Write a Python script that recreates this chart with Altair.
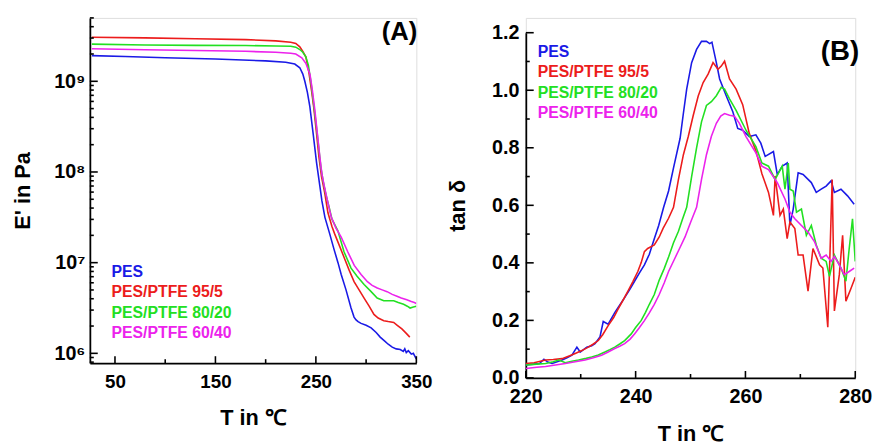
import altair as alt
import pandas as pd

FONT = "Liberation Sans"
SERIES = ["PES", "PES/PTFE 95/5", "PES/PTFE 80/20", "PES/PTFE 60/40"]
COLORS = ["#1a1ae6", "#ec1c1c", "#22e022", "#ec22ec"]

# ---------------- Panel (A): storage modulus E' (Pa) vs T ----------------
A_PES_T = [27, 60, 100, 150, 200, 220, 229, 234, 237, 239, 241.5, 244, 247.3, 250.7, 253.9,
           256, 259, 263.7, 268, 272, 275.2, 280, 285, 288, 290, 292, 295, 300, 305, 310,
           314, 318, 322, 326, 330, 334, 337, 338.5, 340, 342, 345, 347, 349, 350]
A_PES_E = [1.92e9, 1.88e9, 1.82e9, 1.76e9, 1.68e9, 1.62e9, 1.55e9, 1.41e9, 1.20e9, 1.0e9,
           7.59e8, 5.25e8, 2.63e8, 1.26e8, 7.08e7, 4.79e7, 3.16e7, 2.09e7, 1.41e7, 1.0e7,
           7.41e6, 5.01e6, 3.16e6, 2.51e6, 2.34e6, 2.24e6, 2.14e6, 2.04e6, 1.91e6, 1.70e6,
           1.51e6, 1.38e6, 1.26e6, 1.17e6, 1.12e6, 1.10e6, 1.05e6, 1.12e6, 1.02e6, 1.07e6,
           9.8e5, 1.0e6, 9.1e5, 8.7e5]

A_95_T = [27, 80, 130, 180, 210, 225, 230, 234, 237, 240, 243, 245.8, 248, 250.7, 253,
          255.6, 258.8, 262, 266, 268.6, 273, 278.4, 283, 288, 293, 298, 303, 307.8, 312,
          317.6, 322, 327.5, 331, 335.6, 340, 343.5]
A_95_E = [3.06e9, 3.01e9, 2.95e9, 2.88e9, 2.79e9, 2.69e9, 2.62e9, 2.40e9, 2.14e9, 1.86e9,
          1.26e9, 7.76e8, 5.01e8, 2.63e8, 1.48e8, 8.91e7, 5.89e7, 3.55e7, 2.51e7, 2.09e7,
          1.58e7, 1.12e7, 8.32e6, 6.17e6, 5.01e6, 4.07e6, 3.31e6, 2.69e6, 2.45e6, 2.29e6,
          2.24e6, 2.19e6, 2.04e6, 1.86e6, 1.66e6, 1.51e6]

A_80_T = [27, 80, 130, 180, 210, 225, 230, 234, 237, 240, 242.5, 245, 247.3, 250, 252.3,
          255, 257.2, 260, 263, 266, 271.9, 278, 285, 291, 298, 305, 311, 317.6, 322, 327.5,
          332, 337.3, 341, 343.8, 347, 350]
A_80_E = [2.57e9, 2.51e9, 2.49e9, 2.48e9, 2.45e9, 2.43e9, 2.38e9, 2.24e9, 2.09e9, 1.86e9,
          1.51e9, 1.0e9, 6.17e8, 3.55e8, 2.09e8, 1.12e8, 7.94e7, 5.62e7, 4.17e7, 3.02e7,
          2.24e7, 1.32e7, 8.71e6, 7.08e6, 5.75e6, 4.79e6, 4.07e6, 3.80e6, 3.80e6, 3.80e6,
          3.63e6, 3.47e6, 3.31e6, 3.16e6, 3.24e6, 3.31e6]

A_60_T = [27, 80, 130, 180, 210, 225, 230, 236, 240, 244.1, 246.5, 249, 251.5, 253.9, 256,
          258.8, 262, 265.4, 270, 275.2, 281.7, 288.2, 295, 301.3, 306, 311.1, 316, 320.9,
          326, 330.7, 335, 340.5, 345, 348, 350]
A_60_E = [2.29e9, 2.23e9, 2.19e9, 2.14e9, 2.09e9, 2.04e9, 2.0e9, 1.82e9, 1.58e9, 1.20e9,
          7.94e8, 4.79e8, 2.63e8, 1.48e8, 9.55e7, 6.61e7, 4.57e7, 3.16e7, 2.40e7, 1.91e7,
          1.32e7, 9.33e6, 7.41e6, 6.17e6, 5.62e6, 5.25e6, 5.01e6, 4.79e6, 4.47e6, 4.27e6,
          4.07e6, 3.89e6, 3.72e6, 3.63e6, 3.55e6]

# ---------------- Panel (B): tan delta vs T ----------------
B_PES_T = [220, 221.5, 222.5, 223.3, 224, 224.8, 225.7, 226.6, 227.5, 228.4, 229.3, 229.9,
           231.1, 232, 232.6, 233.5, 234.1, 235, 236.2, 237, 238, 239, 239.8, 240.7, 241.6,
           242.5, 243.4, 244.2, 245.1, 246, 246.9, 248.1, 248.7, 249.3, 250.2, 251.1, 252,
           252.9, 253.5, 253.9, 254.7, 255.3, 256.5, 257.7, 258.6, 259.5, 260.7, 261.9,
           262.8, 263.6, 265.1, 265.8, 266.7, 267.6, 268.1, 268.7, 269.6, 270.5, 272, 272.9,
           273.8, 274.7, 275.6, 276.2, 277.4, 278.6, 279.8]
B_PES_V = [0.045, 0.048, 0.05, 0.065, 0.055, 0.05, 0.056, 0.062, 0.07, 0.079, 0.107, 0.09,
           0.107, 0.112, 0.119, 0.142, 0.196, 0.187, 0.227, 0.25, 0.279, 0.31, 0.336, 0.365,
           0.393, 0.43, 0.484, 0.53, 0.593, 0.65, 0.73, 0.833, 0.92, 1.004, 1.096, 1.142,
           1.17, 1.17, 1.162, 1.167, 1.096, 1.039, 0.981, 0.925, 0.867, 0.861, 0.839, 0.845,
           0.816, 0.77, 0.787, 0.707, 0.736, 0.747, 0.53, 0.587, 0.713, 0.707, 0.679, 0.645,
           0.656, 0.667, 0.685, 0.645, 0.656, 0.633, 0.604]

B_95_T = [220, 221.5, 223.6, 225, 226.6, 228, 229, 230.2, 231.4, 232.3, 233.2, 234, 235, 236,
          236.8, 237.7, 238.6, 239.5, 240.4, 241, 241.6, 242.2, 243.4, 244.3, 245, 246, 246.9,
          247.8, 248.7, 249.6, 250.5, 251.4, 252.3, 253.2, 254.1, 255, 255.6, 256.2, 257.1,
          258.3, 259.5, 260.7, 261.9, 263, 264.2, 265.1, 265.4, 266.3, 266.9, 267.6, 268.1,
          269, 269.6, 270.5, 271.4, 272.3, 273.5, 274.1, 275, 275.8, 276.2, 277.1, 277.7,
          278.3, 279.2, 280]
B_95_V = [0.05, 0.053, 0.062, 0.064, 0.067, 0.077, 0.085, 0.095, 0.107, 0.118, 0.13, 0.15,
          0.182, 0.21, 0.239, 0.27, 0.302, 0.335, 0.37, 0.4, 0.439, 0.45, 0.462, 0.49, 0.52,
          0.555, 0.593, 0.69, 0.776, 0.84, 0.913, 0.98, 1.027, 1.056, 1.096, 1.073, 1.084,
          1.101, 1.039, 1.004, 0.95, 0.85, 0.79, 0.71, 0.645, 0.565, 0.702, 0.565, 0.587,
          0.484, 0.542, 0.519, 0.427, 0.427, 0.302, 0.45, 0.393, 0.382, 0.176, 0.69, 0.233,
          0.359, 0.496, 0.267, 0.31, 0.35]

B_80_T = [220, 222, 223.6, 225, 226, 227.2, 228.4, 229.6, 231, 232, 233.2, 234.4, 235.3, 236.2,
          237.1, 238, 239.2, 240, 241, 241.8, 242.5, 243.4, 244.3, 245.2, 246, 246.9, 247.8,
          248.5, 249.3, 250.2, 251.1, 252, 252.9, 253.8, 254.7, 255.6, 256.2, 257.1, 258.3,
          260.1, 261.9, 263, 264.2, 265.4, 266.7, 267.2, 267.8, 268.1, 268.7, 269.3, 270.2,
          271.1, 272, 272.9, 273.8, 274.7, 275.3, 276.2, 277.4, 278.3, 278.9, 279.5, 280]
B_80_V = [0.045, 0.048, 0.05, 0.056, 0.062, 0.053, 0.058, 0.062, 0.068, 0.073, 0.08, 0.09,
          0.098, 0.107, 0.118, 0.13, 0.153, 0.175, 0.199, 0.228, 0.256, 0.29, 0.34, 0.38,
          0.42, 0.47, 0.51, 0.55, 0.593, 0.70, 0.80, 0.89, 0.947, 0.96, 0.981, 1.01, 1.004,
          0.97, 0.93, 0.861, 0.804, 0.747, 0.736, 0.69, 0.736, 0.656, 0.747, 0.656, 0.65,
          0.576, 0.587, 0.496, 0.53, 0.462, 0.416, 0.405, 0.353, 0.427, 0.382, 0.336, 0.45,
          0.553, 0.405]

B_60_T = [220, 222, 223.6, 225.4, 227.2, 229, 230.8, 232.3, 233.8, 235, 236.2, 237.1, 238, 239,
          239.8, 240.7, 241.6, 242.5, 243.4, 244.3, 245.2, 246, 247, 248, 249, 250, 251.1, 252,
          252.9, 253.8, 254.7, 255.5, 256.2, 257.1, 258, 258.9, 260.1, 261.9, 263, 264.2,
          265.8, 267.2, 268.1, 269, 270.2, 271.4, 272.6, 273.8, 274.7, 275.6, 276.2, 277.1,
          278, 278.9, 279.8]
B_60_V = [0.033, 0.037, 0.04, 0.045, 0.05, 0.056, 0.062, 0.07, 0.079, 0.09, 0.102, 0.11, 0.119,
          0.135, 0.153, 0.175, 0.199, 0.226, 0.256, 0.29, 0.33, 0.37, 0.41, 0.45, 0.49, 0.54,
          0.593, 0.69, 0.776, 0.84, 0.885, 0.91, 0.919, 0.913, 0.91, 0.885, 0.839, 0.782,
          0.736, 0.724, 0.679, 0.622, 0.576, 0.553, 0.53, 0.507, 0.473, 0.416, 0.427, 0.405,
          0.422, 0.393, 0.359, 0.37, 0.382]

# ---------------- tick values / labels ----------------
A_X_MAJOR = [50, 150, 250, 350]
A_X_MINOR = [100, 200, 300]
A_Y_MAJOR = [1e6, 1e7, 1e8, 1e9]
A_Y_LABELS = ["10⁶", "10⁷", "10⁸", "10⁹"]
A_Y_MINOR = [8e5, 9e5,
             2e6, 3e6, 4e6, 5e6, 6e6, 7e6, 8e6, 9e6,
             2e7, 3e7, 4e7, 5e7, 6e7, 7e7, 8e7, 9e7,
             2e8, 3e8, 4e8, 5e8, 6e8, 7e8, 8e8, 9e8,
             2e9, 3e9, 4e9, 5e9]
B_X_MAJOR = [220, 240, 260, 280]
B_X_MINOR = [230, 250, 270]
B_Y_MAJOR = [0.0, 0.2, 0.4, 0.6, 0.8, 1.0, 1.2]
B_Y_MINOR = [0.1, 0.3, 0.5, 0.7, 0.9, 1.1]

MAJOR_LEN, MINOR_LEN = 7, 4


def frame(parts, vname):
    rows = []
    for name, ts, vs in parts:
        for t, v in zip(ts, vs):
            rows.append({"series": name, "T": t, vname: v})
    return pd.DataFrame(rows)


dfA = frame([(SERIES[0], A_PES_T, A_PES_E), (SERIES[1], A_95_T, A_95_E),
             (SERIES[2], A_80_T, A_80_E), (SERIES[3], A_60_T, A_60_E)], "E")
dfB = frame([(SERIES[0], B_PES_T, B_PES_V), (SERIES[1], B_95_T, B_95_V),
             (SERIES[2], B_80_T, B_80_V), (SERIES[3], B_60_T, B_60_V)], "tan")

label_color_expr = " : ".join(
    f"datum.label === '{s}' ? '{c}'" for s, c in zip(SERIES, COLORS)) + " : 'black'"


def legend(x, y):
    return alt.Legend(title=None, orient="none", legendX=x, legendY=y,
                      symbolSize=1, symbolOpacity=0, symbolStrokeWidth=0,
                      labelOffset=0, labelFont=FONT, labelFontSize=16,
                      labelFontWeight="bold", labelColor={"expr": label_color_expr},
                      rowPadding=4.4, padding=0, labelLimit=400)


color_scale = alt.Scale(domain=SERIES, range=COLORS)

axis_common = dict(grid=False, ticks=False, labelFont=FONT, labelFontWeight="bold",
                   labelColor="black", domainColor="black", domainWidth=1.8,
                   titleFont=FONT, titleFontWeight="bold", titleColor="black",
                   labelOverlap=False, labelFlush=False)

TICK_STYLE = dict(color="black", strokeWidth=1.6)

# ---- panel A ----
HA = 350
xA_scale = alt.Scale(domain=[25, 350], nice=False, zero=False)
yA_scale = alt.Scale(type="log", domain=[7.8e5, 5e9], nice=False)
yA_expr = " : ".join(f"datum.value === {int(v)} ? '{l}'" for v, l in zip(A_Y_MAJOR, A_Y_LABELS)) + " : ''"
xA = alt.Axis(values=A_X_MAJOR, title="T  in ℃", titleFontSize=22, titlePadding=16,
              labelPadding=10, labelFontSize=19, **axis_common)
yA = alt.Axis(values=A_Y_MAJOR, title="E' in Pa", titleFontSize=22, titlePadding=19,
              labelExpr=yA_expr, labelPadding=5, labelFontSize=20, **axis_common)

linesA = alt.Chart(dfA).mark_line(strokeWidth=1.6, clip=True).encode(
    x=alt.X("T:Q", scale=xA_scale, axis=xA),
    y=alt.Y("E:Q", scale=yA_scale, axis=yA),
    color=alt.Color("series:N", scale=color_scale, legend=legend(6, 250)),
)


def xticks(vals, length, h, xs, ax):
    return alt.Chart(pd.DataFrame({"T": vals})).mark_rule(**TICK_STYLE).encode(
        x=alt.X("T:Q", scale=xs, axis=ax), y=alt.value(h), y2=alt.value(h - length))


def yticks(vals, length, field, ys, ax):
    return alt.Chart(pd.DataFrame({field: vals})).mark_rule(**TICK_STYLE).encode(
        y=alt.Y(f"{field}:Q", scale=ys, axis=ax), x=alt.value(0), x2=alt.value(length))


tagA = alt.Chart(pd.DataFrame({"t": ["(A)"]})).mark_text(
    align="right", baseline="middle", font=FONT, fontSize=26, fontWeight="bold", color="black"
).encode(x=alt.value(332), y=alt.value(14), text="t:N")

panelA = alt.layer(
    linesA,
    xticks(A_X_MAJOR, MAJOR_LEN, HA, xA_scale, xA),
    xticks(A_X_MINOR, MINOR_LEN, HA, xA_scale, xA),
    yticks(A_Y_MAJOR, MAJOR_LEN + 1, "E", yA_scale, yA),
    yticks(A_Y_MINOR, MINOR_LEN, "E", yA_scale, yA),
    tagA,
).properties(width=331, height=HA)

# ---- panel B (plot area 15 px lower at its top, 15 px longer at its bottom) ----
HB = 365
xB_scale = alt.Scale(domain=[220, 280], nice=False, zero=False)
yB_scale = alt.Scale(domain=[0, 1.2], nice=False, range=[HB, 15])
xB = alt.Axis(values=B_X_MAJOR, title="T in ℃", titleFontSize=22, titlePadding=17,
              labelPadding=9, labelFontSize=20, **axis_common)
yB = alt.Axis(values=B_Y_MAJOR, title="tan δ", titleFontSize=22, titlePadding=22, format=".1f",
              labelPadding=7, labelFontSize=20, **axis_common)

linesB = alt.Chart(dfB).mark_line(strokeWidth=1.6, clip=True).encode(
    x=alt.X("T:Q", scale=xB_scale, axis=xB),
    y=alt.Y("tan:Q", scale=yB_scale, axis=yB),
    color=alt.Color("series:N", scale=color_scale, legend=legend(-4, 27)),
)
tagB = alt.Chart(pd.DataFrame({"t": ["(B)"]})).mark_text(
    align="right", baseline="middle", font=FONT, fontSize=28, fontWeight="bold", color="black"
).encode(x=alt.value(338), y=alt.value(35), text="t:N")

panelB = alt.layer(
    linesB,
    xticks(B_X_MAJOR, MAJOR_LEN, HB, xB_scale, xB),
    xticks(B_X_MINOR, MINOR_LEN, HB, xB_scale, xB),
    yticks(B_Y_MAJOR, MAJOR_LEN + 1, "tan", yB_scale, yB),
    yticks(B_Y_MINOR, MINOR_LEN, "tan", yB_scale, yB),
    tagB,
).properties(width=334, height=HB)

chart = alt.hconcat(panelA, panelB, spacing=13).resolve_scale(
    color="shared").resolve_legend(color="independent").properties(
    padding={"left": 3, "top": 5, "right": 0, "bottom": 0}
).configure_view(stroke=None).configure(font=FONT)

chart.save("out.html", embed_options={"renderer": "svg", "actions": False})
